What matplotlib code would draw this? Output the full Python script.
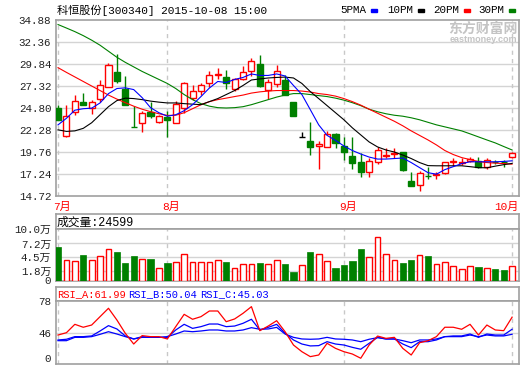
import matplotlib
matplotlib.use("Agg")
import matplotlib.pyplot as plt
import matplotlib.transforms as mtransforms
from matplotlib.patches import Rectangle

plt.rcParams['font.family'] = ['Liberation Mono', 'Noto Sans CJK SC']
plt.rcParams['font.size'] = 7.5

# daily bars for 300340, 2015-07 .. 2015-10-08
opens = [24.80, 21.65, 24.34, 25.49, 24.80, 25.84, 27.26, 28.96, 27.03, 22.60,
         23.07, 24.30, 23.19, 23.72, 23.07, 24.80, 25.96, 26.80, 27.69, 28.57,
         28.30, 26.92, 28.15, 29.03, 29.88, 26.84, 27.57, 28.03, 25.50, 21.49,
         21.03, 20.42, 20.30, 21.84, 20.45, 19.30, 18.65, 17.49, 18.65, 19.30,
         19.57, 19.72, 16.45, 16.03, 17.03, 17.11, 17.38, 18.57, 18.53, 18.76,
         18.72, 18.07, 18.65, 18.65, 19.15]
closes = [23.42, 23.92, 25.65, 25.11, 25.49, 27.42, 29.69, 27.88, 25.11, 22.57,
          24.22, 23.92, 23.84, 23.42, 25.30, 27.69, 26.80, 27.38, 28.53, 28.72,
          27.69, 28.15, 28.96, 30.19, 27.30, 27.80, 29.03, 26.34, 23.84, 21.49,
          20.30, 20.68, 21.84, 20.76, 19.80, 18.53, 17.49, 18.76, 19.99, 19.42,
          19.68, 17.68, 15.88, 17.30, 17.00, 17.26, 18.57, 18.72, 18.65, 18.95,
          18.07, 18.84, 18.57, 18.57, 19.61]
highs = [25.19, 25.19, 26.34, 26.57, 25.76, 27.96, 30.00, 31.03, 28.49, 24.99,
         24.49, 25.49, 24.03, 24.42, 25.65, 27.76, 27.42, 27.69, 29.03, 29.34,
         29.11, 28.26, 29.61, 30.57, 30.84, 28.07, 29.73, 28.57, 25.50, 22.03,
         23.19, 21.03, 22.11, 21.92, 21.53, 21.53, 19.61, 19.03, 20.38, 20.26,
         20.18, 19.80, 17.49, 17.57, 18.07, 17.49, 18.65, 19.03, 19.11, 19.15,
         19.22, 19.11, 18.84, 18.84, 19.80]
lows = [23.42, 21.53, 23.95, 25.11, 24.11, 25.49, 27.26, 27.69, 25.11, 22.57,
        22.03, 23.65, 23.07, 21.53, 23.07, 24.22, 25.76, 26.34, 27.19, 28.07,
        26.92, 26.72, 27.96, 28.45, 27.19, 25.88, 27.26, 26.26, 23.84, 21.49,
        19.42, 17.80, 20.30, 20.19, 18.84, 17.80, 16.92, 16.92, 18.34, 19.03,
        19.03, 17.61, 15.88, 15.30, 16.72, 16.65, 17.19, 18.19, 18.26, 18.65,
        17.96, 17.80, 18.34, 18.07, 19.03]
volumes = [6.54, 4.05, 3.73, 4.90, 3.92, 4.71, 6.21, 5.56, 3.40, 4.71,
           4.25, 4.12, 2.48, 3.40, 3.53, 5.10, 3.53, 3.53, 3.53, 4.05,
           3.53, 2.48, 3.14, 3.27, 3.40, 3.14, 3.92, 3.20, 1.63, 2.94,
           5.56, 5.10, 3.73, 2.42, 3.01, 3.79, 6.08, 4.51, 8.43, 5.10,
           4.05, 3.40, 3.99, 4.90, 4.77, 3.14, 3.66, 2.75, 2.29, 2.75,
           2.55, 2.35, 2.16, 1.96, 2.88]
last_volume = 24599

ma5 = [22.87, 23.62, 24.55, 24.72, 24.78, 25.38, 26.45, 27.03, 27.11, 26.91,
       25.99, 24.84, 24.26, 23.86, 24.03, 24.49, 25.18, 26.11, 27.09, 27.84,
       27.72, 28.07, 28.30, 28.70, 28.53, 28.53, 28.70, 28.47, 27.38, 26.34,
       24.61, 22.87, 21.66, 21.09, 20.45, 19.93, 19.53, 19.18, 18.95, 18.95,
       19.01, 19.07, 18.55, 17.97, 17.39, 17.22, 17.74, 18.08, 18.43, 18.64,
       18.64, 18.64, 18.64, 18.68, 18.75]
ma10 = [22.30, 22.12, 22.18, 22.47, 23.11, 24.03, 24.95, 25.65, 25.93, 25.88,
        25.76, 25.59, 25.47, 25.38, 25.38, 25.30, 25.24, 25.18, 25.53, 25.88,
        26.34, 26.80, 27.38, 28.01, 28.13, 28.24, 28.30, 28.34, 28.24, 27.61,
        26.68, 25.88, 25.07, 24.26, 23.45, 22.53, 21.72, 20.91, 20.34, 19.99,
        19.76, 19.41, 19.01, 18.55, 18.20, 18.18, 18.18, 18.18, 18.18, 18.08,
        17.97, 17.95, 18.14, 18.31, 18.45]
ma20 = [29.42, 28.88, 28.36, 27.84, 27.32, 26.80, 26.28, 25.82, 25.41, 25.01,
        24.66, 24.38, 24.14, 23.95, 23.97, 24.26, 24.72, 25.18, 25.53, 25.76,
        25.93, 26.11, 26.28, 26.51, 26.65, 26.74, 26.80, 26.80, 26.80, 26.74,
        26.63, 26.45, 26.34, 26.16, 25.88, 25.53, 25.13, 24.66, 24.20, 23.74,
        23.28, 22.76, 22.18, 21.66, 21.14, 20.57, 19.93, 19.47, 19.12, 18.89,
        18.66, 18.55, 18.49, 18.43, 18.37]
ma30 = [34.36, 33.96, 33.55, 33.09, 32.57, 31.99, 31.30, 30.61, 30.03, 29.51,
        28.99, 28.53, 28.07, 27.61, 27.03, 26.34, 25.76, 25.30, 25.01, 24.84,
        24.80, 24.84, 24.95, 25.18, 25.47, 25.76, 26.05, 26.28, 26.45, 26.45,
        26.34, 26.22, 26.11, 25.93, 25.70, 25.41, 25.07, 24.66, 24.37, 24.14,
        23.97, 23.86, 23.68, 23.45, 23.16, 22.87, 22.64, 22.41, 22.18, 21.84,
        21.49, 21.14, 20.80, 20.39, 19.99]

rsi_a = [44.3, 46.6, 54.9, 52.0, 54.2, 62.5, 70.8, 59.2, 46.0, 35.4,
         43.7, 42.7, 42.7, 40.4, 52.6, 64.8, 59.9, 62.5, 68.1, 68.1,
         57.5, 60.2, 65.8, 72.4, 48.6, 53.2, 58.5, 47.6, 34.4, 27.8,
         22.9, 24.5, 36.1, 31.1, 27.8, 25.5, 21.3, 34.4, 43.3, 41.0,
         42.0, 31.1, 24.5, 36.7, 38.7, 42.7, 52.0, 52.0, 50.0, 54.9,
         44.3, 54.2, 49.3, 48.6, 61.99]
rsi_b = [39.4, 40.1, 42.7, 42.7, 43.4, 48.3, 53.6, 50.3, 43.4, 40.4,
         42.7, 42.0, 42.0, 42.0, 49.3, 54.9, 50.9, 52.6, 55.2, 55.2,
         52.6, 53.2, 55.9, 59.9, 49.3, 51.9, 54.9, 46.0, 39.4, 35.4,
         33.5, 33.8, 37.7, 35.4, 34.4, 32.1, 30.2, 36.1, 42.0, 40.4,
         40.4, 35.4, 31.8, 37.7, 37.7, 39.4, 42.7, 43.4, 43.4, 45.3,
         42.0, 45.3, 44.3, 44.3, 50.04]
rsi_c = [38.7, 38.7, 42.0, 42.0, 42.7, 45.0, 47.6, 45.3, 42.7, 40.4,
         42.0, 42.0, 42.0, 42.7, 45.3, 48.3, 47.6, 48.3, 49.3, 49.3,
         48.3, 48.3, 49.3, 51.6, 50.0, 50.3, 51.9, 45.3, 42.0, 40.4,
         40.1, 40.4, 42.0, 40.4, 40.1, 39.4, 37.7, 40.1, 41.7, 40.4,
         40.4, 38.7, 36.7, 39.4, 39.4, 40.4, 42.7, 42.7, 42.7, 44.3,
         42.7, 44.3, 43.4, 43.4, 45.03]

month_starts = [0, 13, 34, 54]
month_labels = ['7月', '8月', '9月', '10月']
price_ticks = [14.72, 17.24, 19.76, 22.28, 24.80, 27.32, 29.84, 32.36, 34.88]
vol_ticks = [0, 1.8, 4.5, 7.2, 10.0]
vol_labels = ['0', '1.8万', '4.5万', '7.2万', '10.0万']
rsi_ticks = [15.6, 46, 78]
rsi_labels = ['0', '46', '78']

RED = '#ff0000'
GREEN = '#008000'
BLUE = '#0000ff'
BORDER = '#a0a0a0'
GRID = '#d4d4d4'

W, H = 520, 365
fig = plt.figure(figsize=(W / 100, H / 100), dpi=100)


def box(x0, y0, x1, y1):
    return [x0 / W, 1 - y1 / H, (x1 - x0) / W, (y1 - y0) / H]


def frame(ax):
    for s in ax.spines.values():
        s.set_color(BORDER)
        s.set_linewidth(1.2)
    ax.tick_params(length=0, pad=3, labelsize=7.8, colors='#222222')
    ax.set_xlim(-0.3, 54.82)
    ax.set_xticks([])


ax_p = fig.add_axes(box(55.5, 20, 519, 196))
ax_vh = fig.add_axes(box(55.5, 214.3, 519, 229))
ax_v = fig.add_axes(box(55.5, 229, 519, 280.5))
ax_rh = fig.add_axes(box(55.5, 286.7, 519, 301))
ax_r = fig.add_axes(box(55.5, 301, 519, 364))
for ax in (ax_p, ax_vh, ax_v, ax_rh, ax_r):
    frame(ax)
for ax in (ax_vh, ax_rh):
    ax.set_yticks([])

n = len(closes)
idx = list(range(n))

# price panel
ax_p.set_ylim(price_ticks[0], price_ticks[-1])
ax_p.set_yticks(price_ticks, [f'{v:.2f}' for v in price_ticks])
for v in price_ticks[1:-1]:
    ax_p.axhline(v, color=GRID, lw=1, zorder=0)
for ax in (ax_p, ax_v, ax_r):
    for m in month_starts:
        ax.axvline(m, color='#c8c8c8', lw=1, ls=(0, (3, 3)), zorder=0)

for i in idx:
    o, c, hi, lo = opens[i], closes[i], highs[i], lows[i]
    if c > o:
        col, face = RED, 'white'
    elif c < o:
        col, face = GREEN, GREEN
    else:
        col, face = 'black', 'black'
    ax_p.vlines(i, max(o, c), hi, color=col, lw=1, zorder=2)
    ax_p.vlines(i, lo, min(o, c), color=col, lw=1, zorder=2)
    ax_p.bar(i, abs(c - o), bottom=min(o, c), width=0.72, facecolor=face,
             edgecolor=col, linewidth=1, zorder=3)

ax_p.plot(idx, ma30, color=GREEN, lw=0.8, zorder=4)
ax_p.plot(idx, ma20, color=RED, lw=0.8, zorder=4)
ax_p.plot(idx, ma10, color='black', lw=0.8, zorder=4)
ax_p.plot(idx, ma5, color=BLUE, lw=0.8, zorder=4)

lab_tr = mtransforms.offset_copy(ax_p.get_xaxis_transform(), fig=fig, x=-5, y=0, units='dots')
end_tr = mtransforms.offset_copy(ax_p.get_xaxis_transform(), fig=fig, x=6, y=0, units='dots')
for m, lab in zip(month_starts, month_labels):
    if m == month_starts[-1]:
        # last label would run off the right edge
        ax_p.text(m, -0.063, lab, transform=end_tr, color=RED, fontsize=8,
                  ha='right', va='center', clip_on=False)
    else:
        ax_p.text(m, -0.063, lab, transform=lab_tr, color=RED, fontsize=8,
                  ha='left', va='center', clip_on=False)

# title / legend / watermark
fig.text(57 / W, 1 - 10 / H, '科恒股份[300340] 2015-10-08 15:00', fontsize=8,
         ha='left', va='center', color='black')
legend = [('5PMA', BLUE, 340), ('10PM', 'black', 387), ('20PM', RED, 433), ('30PM', GREEN, 478)]
for name, col, x in legend:
    fig.text(x / W, 1 - 10 / H, name, fontsize=7.8, ha='left', va='center')
    fig.patches.append(Rectangle(((x + 31) / W, 1 - 11.5 / H), 6 / W, 3 / H,
                                 transform=fig.transFigure, color=col))
fig.text(483 / W, 1 - 29 / H, '东方财富网', fontsize=10, fontweight='bold',
         color='#c4c4c4', ha='center', va='center', family='Noto Sans CJK SC')
fig.text(483 / W, 1 - 40 / H, 'eastmoney.com', fontsize=6.5, fontweight='bold',
         color='#c4c4c4', ha='center', va='center', family='Liberation Sans')

# volume panel
ax_vh.text(0.003, 0.45, f'成交量:{last_volume}', transform=ax_vh.transAxes,
           fontsize=8.5, ha='left', va='center')
ax_v.set_ylim(0, 10.0)
ax_v.set_yticks(vol_ticks, vol_labels)
for v in vol_ticks[1:-1]:
    ax_v.axhline(v, color=GRID, lw=1, zorder=0)
for i in idx:
    if closes[i] >= opens[i]:
        ax_v.bar(i, volumes[i], width=0.68, facecolor='white', edgecolor=RED,
                 linewidth=1, zorder=3)
    else:
        ax_v.bar(i, volumes[i], width=0.76, facecolor=GREEN, edgecolor=GREEN,
                 linewidth=0.5, zorder=3)

# RSI panel
ax_rh.text(0.003, 0.45, f'RSI_A:{rsi_a[-1]:.2f}', transform=ax_rh.transAxes,
           color=RED, fontsize=7.5, ha='left', va='center')
ax_rh.text(0.156, 0.45, f'RSI_B:{rsi_b[-1]:.2f}', transform=ax_rh.transAxes,
           color=BLUE, fontsize=7.5, ha='left', va='center')
ax_rh.text(0.311, 0.45, f'RSI_C:{rsi_c[-1]:.2f}', transform=ax_rh.transAxes,
           color=BLUE, fontsize=7.5, ha='left', va='center')
ax_r.set_ylim(rsi_ticks[0], rsi_ticks[-1])
ax_r.set_yticks(rsi_ticks, rsi_labels)
ax_r.get_yticklabels()[0].set_verticalalignment('bottom')
ax_r.axhline(46, color=GRID, lw=1, zorder=0)
ax_r.plot(idx, rsi_c, color=BLUE, lw=0.9)
ax_r.plot(idx, rsi_b, color=BLUE, lw=0.9)
ax_r.plot(idx, rsi_a, color=RED, lw=0.9)

fig.savefig('out.png', dpi=100)
